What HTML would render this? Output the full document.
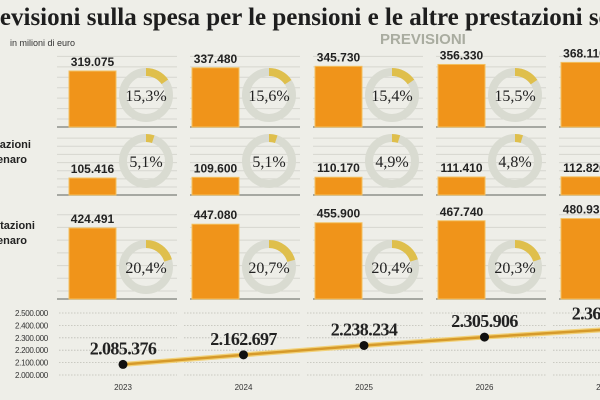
<!DOCTYPE html>
<html><head><meta charset="utf-8"><style>
body{margin:0;width:600px;height:400px;overflow:hidden;background:#eeeee8;font-family:"Liberation Sans",sans-serif}
svg{display:block}
</style></head><body>
<svg id="c" width="600" height="400" viewBox="0 0 600 400">
<text x="-26" y="25" font-family="Liberation Serif,serif" font-weight="bold" font-size="25" fill="#1e1e1e">Previsioni sulla spesa per le pensioni e le altre prestazioni sociali</text>
<text x="10" y="46" font-size="9" fill="#333">in milioni di euro</text>
<text x="380" y="44" font-size="15" font-weight="bold" fill="#a9aca0">PREVISIONI</text>
<text x="-10" y="148" font-size="11" font-weight="bold" fill="#222">stazioni</text>
<text x="-3" y="163" font-size="11" font-weight="bold" fill="#222">enaro</text>
<text x="-6" y="229" font-size="11" font-weight="bold" fill="#222">stazioni</text>
<text x="-3" y="244" font-size="11" font-weight="bold" fill="#222">enaro</text>
<g id="g"></g>
</svg>
<script>
const years=["2023","2024","2025","2026","2027"];
const pensioni=[319075,337480,345730,356330,368110];
const pensioniPct=[15.3,15.6,15.4,15.5,15.6];
const altre=[105416,109600,110170,111410,112820];
const altrePct=[5.1,5.1,4.9,4.8,4.8];
const totale=[424491,447080,455900,467740,480930];
const totalePct=[20.4,20.7,20.4,20.3,20.4];
const spesa=[2085376,2162697,2238234,2305906,2365000];
const yTicks=[2000000,2100000,2200000,2300000,2400000,2500000];
const yTickLabels=["2.000.000","2.100.000","2.200.000","2.300.000","2.400.000","2.500.000"];

const NS="http://www.w3.org/2000/svg";
const g=document.getElementById('g');
function mk(t,a,txt){const e=document.createElementNS(NS,t);for(const k in a)e.setAttribute(k,a[k]);if(txt!=null)e.textContent=txt;g.appendChild(e);return e;}
function fmt(v){return v.toString().replace(/\B(?=(\d{3})+(?!\d))/g,'.');}
function fmtPct(p){return p.toFixed(1).replace('.',',')+'%';}
const colX=i=>69+i*123;
const rows=[
 {vals:pensioni,pct:pensioniPct,base:127,scale:56/319075,cy:95,top:54},
 {vals:altre,pct:altrePct,base:195,scale:17/105416,cy:161,top:138},
 {vals:totale,pct:totalePct,base:299,scale:71/424491,cy:267,top:210}
];
rows.forEach((r,ri)=>{
 years.forEach((y,i)=>{
  const x=colX(i);const x0=i==0?57:x-2;const x1=x+108;
  for(let k=0;k<7;k++){const yy=r.base-8-k*((r.base-r.top)/7);
   const l=mk('line',{x1:x0,x2:x1,y1:yy,y2:yy,stroke:'#d6d6cf','stroke-width':1});
   }
  const bl=mk('line',{x1:x0,x2:x1,y1:r.base,y2:r.base,stroke:'#8e918a','stroke-width':1.5});
  
  const h=r.vals[i]*r.scale;
  const b=mk('rect',{x:x,y:r.base-h,width:47,height:h,fill:'#f0941a',stroke:'#f3c060','stroke-width':1});
  
  const t=mk('text',{x:x+23.5,y:r.base-h-5,'text-anchor':'middle','font-size':12,'font-weight':'bold',fill:'#222'},fmt(r.vals[i]));
  
  const cx=x+77,cy=r.cy,rad=23;
  const ring=mk('circle',{cx:cx,cy:cy,r:rad,fill:'none',stroke:'#d9dbd1','stroke-width':8});
  
  const a=r.pct[i]/100*2*Math.PI;
  const ex=cx+rad*Math.sin(a),ey=cy-rad*Math.cos(a);
  const arc=mk('path',{d:`M${cx} ${cy-rad} A${rad} ${rad} 0 0 1 ${ex} ${ey}`,fill:'none',stroke:'#dfbf4c','stroke-width':8});
  
  const pt=mk('text',{x:cx,y:cy+6,'text-anchor':'middle','font-size':16,'font-family':'Liberation Serif,serif',fill:'#222'},fmtPct(r.pct[i]));
  
 });
});
// line chart
const yS=v=>375-(v-2000000)/100000*12.4;
const xS=i=>123+i*120.5;
yTicks.forEach((v,k)=>{
 const t=mk('text',{x:15,y:yS(v)+3,'font-size':8,fill:'#333','letter-spacing':'-0.3'},yTickLabels[k]);
 
 years.forEach((y,i)=>{const l=mk('line',{x1:colX(i)-8+(i==0?-2:0),x2:colX(i)+108,y1:yS(v),y2:yS(v),stroke:'#bdbdb5','stroke-width':0.8,'stroke-dasharray':'1.5,1.5'});
 });
});
let d='';spesa.forEach((v,i)=>{d+=(i?'L':'M')+xS(i)+' '+yS(v)+' ';});
const ln1=mk('path',{d:d,fill:'none',stroke:'#f2d27a','stroke-width':5});

const ln=mk('path',{d:d,fill:'none',stroke:'#d69a2a','stroke-width':2.5});

spesa.forEach((v,i)=>{
 const c=mk('circle',{cx:xS(i),cy:yS(v),r:4.5,fill:'#111'});
 
 const t=mk('text',{x:xS(i),y:yS(v)-10,'text-anchor':'middle','font-size':18,'font-weight':'bold','font-family':'Liberation Serif,serif',fill:'#222','letter-spacing':'-0.6'},fmt(v));
 
 const yt=mk('text',{x:xS(i),y:390,'text-anchor':'middle','font-size':8,fill:'#333'},years[i]);
 
});
</script>
</body></html>
